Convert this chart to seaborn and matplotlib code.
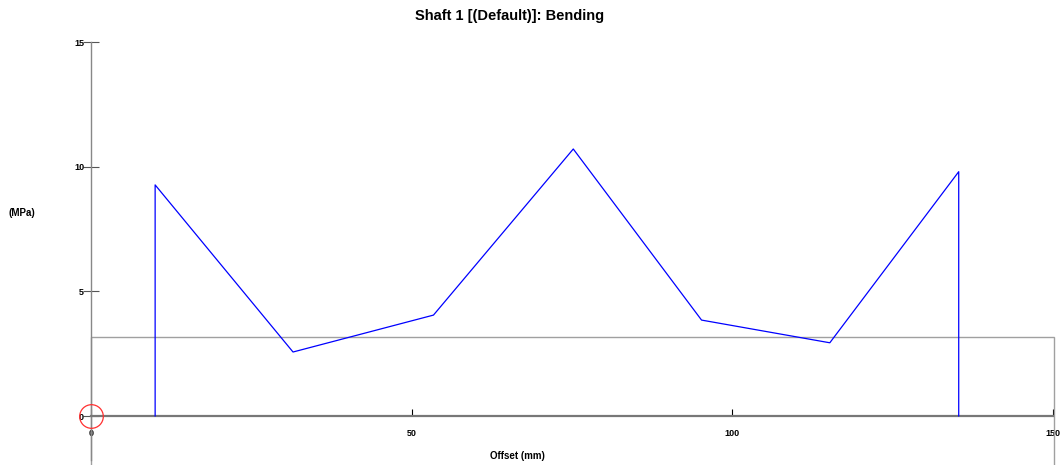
import numpy as np
import seaborn as sns
import matplotlib.pyplot as plt
from matplotlib.patches import Rectangle

# Bending stress along the shaft
offset_mm = [10, 10, 31.5, 53.4, 75.2, 95.2, 115.2, 135.3, 135.3]
stress_mpa = [0, 9.27, 2.57, 4.05, 10.71, 3.85, 2.94, 9.80, 0]

# shaft outline (length, height in plot units)
shaft_length = 150
shaft_top = 3.17

x_ticks = [0, 50, 100, 150]
y_ticks = [0, 5, 10, 15]

sns.set_style("white")
plt.rcParams['font.family'] = ['Liberation Sans', 'DejaVu Sans']
plt.rcParams['text.color'] = 'black'
plt.rcParams['xtick.color'] = 'black'
plt.rcParams['ytick.color'] = 'black'

fig = plt.figure(figsize=(10.62, 4.65), dpi=100)
ax = fig.add_axes([91 / 1062, 5 / 465, (1053 - 91) / 1062, (460 - 42) / 465])

# shaft outline
ax.add_patch(Rectangle((0, -2.3), shaft_length + 0.2, shaft_top + 2.3, fill=False,
                       edgecolor='#a0a0a0', lw=1.0, clip_on=False, zorder=1))

sns.lineplot(x=offset_mm, y=stress_mpa, sort=False, estimator=None,
             color='#0000ff', linewidth=0.9, ax=ax, zorder=3)

# origin marker
ax.plot([0], [0], marker='o', markersize=17, markerfacecolor='none',
        markeredgecolor='#ff3030', markeredgewidth=0.9, clip_on=False, zorder=4)

ax.set_xlim(0, 150)
ax.set_ylim(-1.76, 15)

for s in ['top', 'right']:
    ax.spines[s].set_visible(False)
ax.spines['left'].set_position(('data', 0))
ax.spines['bottom'].set_position(('data', 0))
ax.spines['left'].set_color('#888888')
ax.spines['left'].set_linewidth(1.0)
ax.spines['bottom'].set_color('#777777')
ax.spines['bottom'].set_linewidth(1.6)

ax.set_xticks(x_ticks)
ax.set_yticks(y_ticks)
ax.tick_params(axis='x', bottom=True, direction='in', length=5, width=0.8,
               color='black', labelsize=6.5, pad=9)
ax.tick_params(axis='y', left=True, direction='inout', length=12, width=0.8,
               color='#555555', labelsize=6.5, pad=-1)
for lab in ax.get_xticklabels() + ax.get_yticklabels():
    lab.set_fontweight('bold')

ax.set_xlabel('')
ax.set_ylabel('')
fig.text(517 / 1062, 1 - 456 / 465, 'Offset (mm)', ha='center', va='center',
         fontsize=7, fontweight='bold')
fig.text(22 / 1062, 1 - 213 / 465, '(MPa)', ha='center', va='center',
         fontsize=7, fontweight='bold')
fig.text(510 / 1062, 1 - 16 / 465, 'Shaft 1 [(Default)]: Bending', ha='center',
         va='center', fontsize=10.5, fontweight='bold')

fig.savefig('out.png', dpi=100)
